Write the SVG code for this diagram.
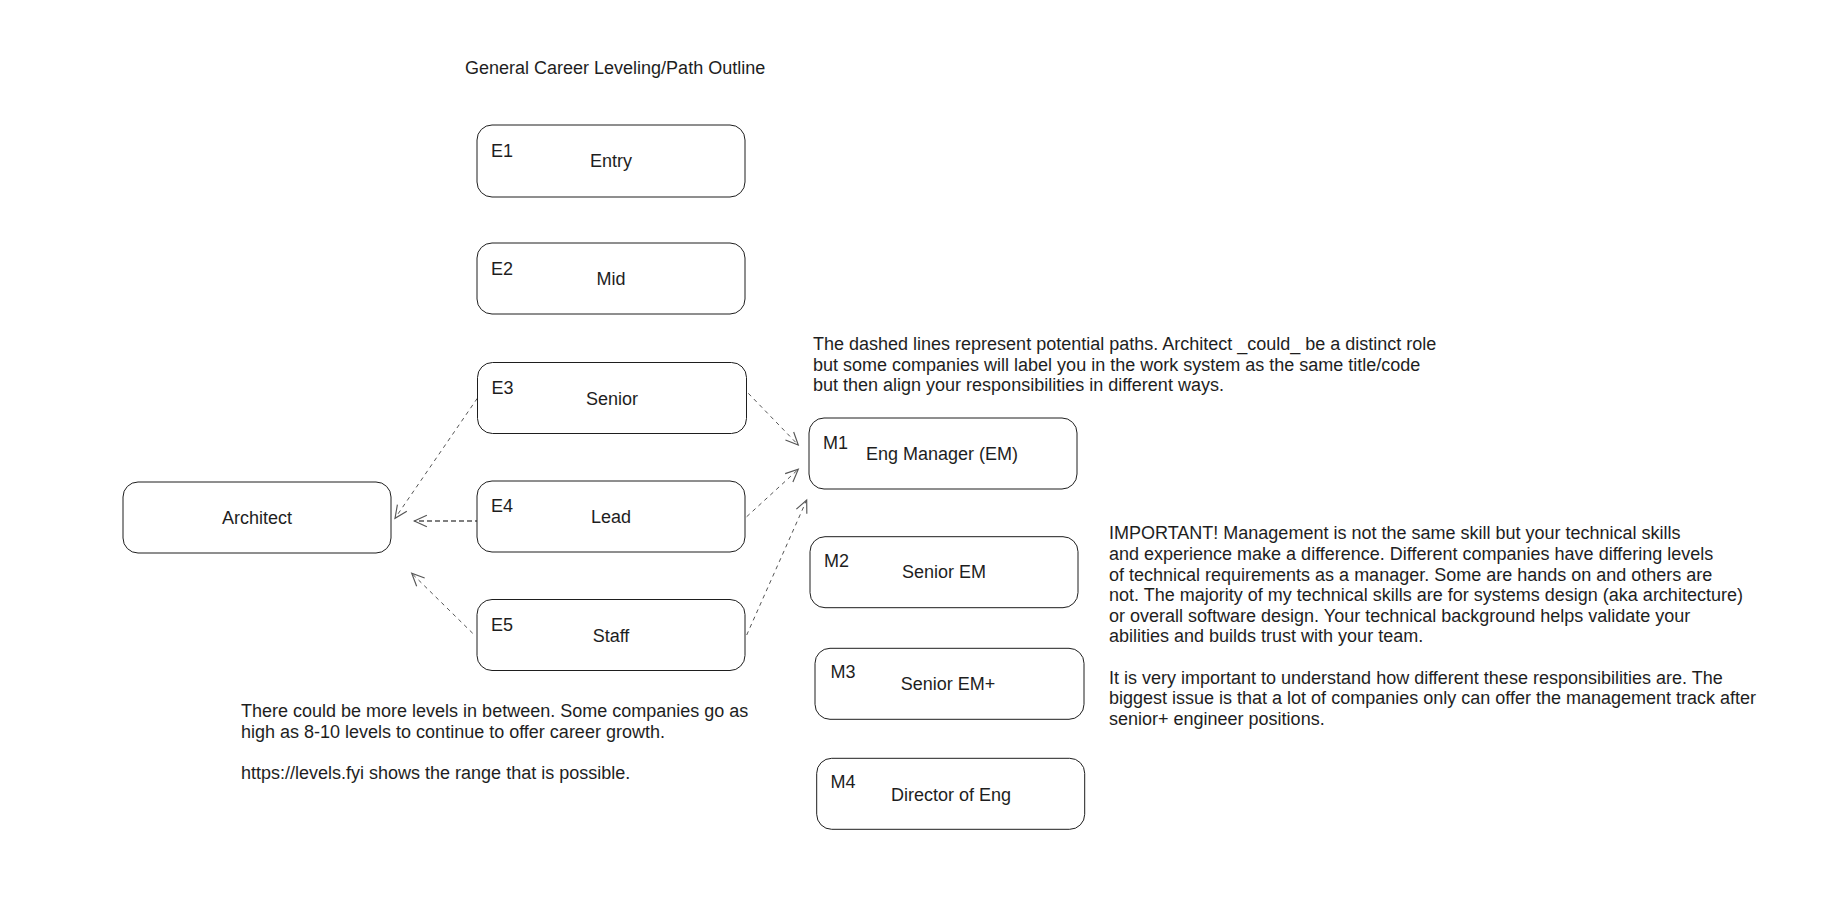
<svg xmlns="http://www.w3.org/2000/svg" width="1835" height="908" viewBox="0 0 1835 908">
<style>
text{font-family:"Liberation Sans",Arial,Helvetica,sans-serif;font-size:18px;fill:#1e1e1e}
.box{fill:#ffffff;stroke:#1e1e1e;stroke-width:1}
.mid{text-anchor:middle}
.con{fill:none;stroke:#555555;stroke-width:1;stroke-dasharray:4 4}
.con.b{stroke-width:1.4;stroke-dasharray:5 3}
</style>
<defs>
<marker id="ah" markerUnits="userSpaceOnUse" markerWidth="16" markerHeight="14" refX="12" refY="6" orient="auto" viewBox="0 0 14 12" overflow="visible">
<path d="M1 1 L12 6 L1 11" fill="none" stroke="#555555" stroke-width="1"/>
</marker>
</defs>
<rect width="1835" height="908" fill="#ffffff"/>
<text id="title" x="465" y="74">General Career Leveling/Path Outline</text>

<g id="connectors">
<path class="con" d="M477.3 398.3 L395 518.3" marker-end="url(#ah)"/>
<path class="con b" d="M480 521 L414.3 521" marker-end="url(#ah)"/>
<path class="con" d="M472.7 633.3 L411.7 573.3" marker-end="url(#ah)"/>
<path class="con" d="M748.3 393.3 L798.3 445" marker-end="url(#ah)"/>
<path class="con" d="M746.7 516.7 L798.3 469.3" marker-end="url(#ah)"/>
<path class="con" d="M746.7 635 L806.7 500" marker-end="url(#ah)"/>
</g>

<g id="e1"><rect class="box" x="477" y="125" width="268" height="72" rx="15"/><text x="491" y="157">E1</text><text class="mid" x="611" y="167">Entry</text></g>
<g id="e2"><rect class="box" x="477" y="243" width="268" height="71" rx="15"/><text x="491" y="275">E2</text><text class="mid" x="611" y="285">Mid</text></g>
<g id="e3"><rect class="box" x="477.5" y="362.5" width="269" height="71" rx="15"/><text x="491.5" y="393.5">E3</text><text class="mid" x="612" y="404.5">Senior</text></g>
<g id="e4"><rect class="box" x="477" y="481" width="268" height="71" rx="15"/><text x="491" y="512">E4</text><text class="mid" x="611" y="523">Lead</text></g>
<g id="e5"><rect class="box" x="477" y="599.5" width="268" height="71" rx="15"/><text x="491" y="630.5">E5</text><text class="mid" x="611" y="641.5">Staff</text></g>
<g id="architect"><rect class="box" x="123" y="482" width="268" height="71" rx="15"/><text class="mid" x="257" y="524">Architect</text></g>

<g id="m1"><rect class="box" x="809" y="418" width="268" height="71" rx="15"/><text x="823" y="449">M1</text><text class="mid" x="942" y="460">Eng Manager (EM)</text></g>
<g id="m2"><rect class="box" x="810" y="536.7" width="268" height="71" rx="15"/><text x="824" y="566.7">M2</text><text class="mid" x="944" y="578">Senior EM</text></g>
<g id="m3"><rect class="box" x="815" y="648.3" width="269" height="71" rx="15"/><text x="830.5" y="678.3">M3</text><text class="mid" x="948" y="690">Senior EM+</text></g>
<g id="m4"><rect class="box" x="816.7" y="758.3" width="268" height="71" rx="15"/><text x="830.5" y="788.3">M4</text><text class="mid" x="951" y="801">Director of Eng</text></g>

<g id="note-paths">
<text x="813" y="350">The dashed lines represent potential paths. Architect _could_ be a distinct role</text>
<text x="813" y="370.7">but some companies will label you in the work system as the same title/code</text>
<text x="813" y="391.4">but then align your responsibilities in different ways.</text>
</g>
<g id="note-levels">
<text x="241" y="717">There could be more levels in between. Some companies go as</text>
<text x="241" y="737.7">high as 8-10 levels to continue to offer career growth.</text>
<text x="241" y="779">https://levels.fyi shows the range that is possible.</text>
</g>
<g id="note-important">
<text x="1109" y="539.3">IMPORTANT! Management is not the same skill but your technical skills</text>
<text x="1109" y="560">and experience make a difference. Different companies have differing levels</text>
<text x="1109" y="580.6">of technical requirements as a manager. Some are hands on and others are</text>
<text x="1109" y="601.2">not. The majority of my technical skills are for systems design (aka architecture)</text>
<text x="1109" y="621.8">or overall software design. Your technical background helps validate your</text>
<text x="1109" y="642.4">abilities and builds trust with your team.</text>
<text x="1109" y="683.6">It is very important to understand how different these responsibilities are. The</text>
<text x="1109" y="704.2">biggest issue is that a lot of companies only can offer the management track after</text>
<text x="1109" y="724.8">senior+ engineer positions.</text>
</g>
</svg>
